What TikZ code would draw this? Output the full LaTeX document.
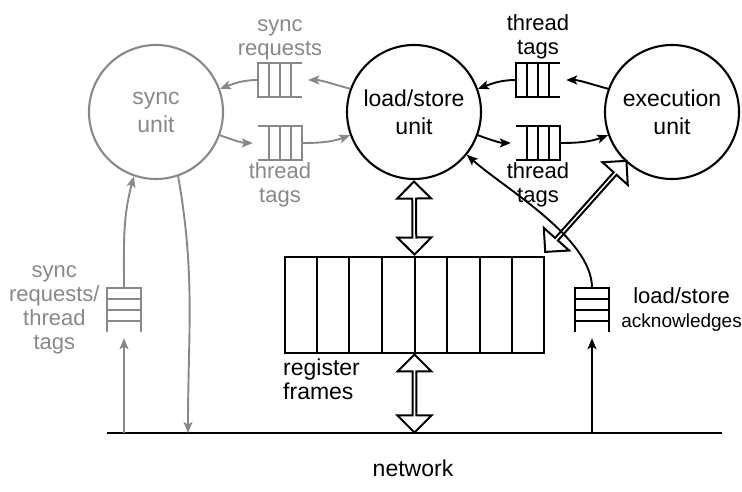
\documentclass[tikz,border=0pt]{standalone}
\usepackage{fontspec}
\setmainfont{Liberation Sans}
\usetikzlibrary{arrows.meta,shapes.arrows,positioning,calc}

\definecolor{syncgray}{RGB}{136,136,136}

\tikzset{
  unit/.style={circle, draw, line width=2.1pt, minimum size=134pt, inner sep=0pt,
    align=center, font=\fontsize{23}{28}\selectfont},
  qbox/.style={minimum width=44pt, minimum height=34pt, inner sep=0pt},
  vqbox/.style={minimum width=34pt, minimum height=44pt, inner sep=0pt},
  qline/.style={line width=2pt},
  lbl/.style={align=center, inner sep=1pt, font=\fontsize{22}{24}\selectfont},
  flow/.style={line width=1.9pt, -{Stealth[length=11pt,width=9pt,inset=2.5pt]}},
  dblarrow/.style={double arrow, draw, line width=2pt, inner sep=0pt,
    minimum width=34pt, double arrow head extend=8pt, double arrow tip angle=90},
}

% queues: closed end on the west, east or north side
\newcommand\qwest[2]{%
  \draw[qline,#2] (#1.north east) -- (#1.north west) -- (#1.south west) -- (#1.south east)
    \foreach \d in {11,22,33}{([xshift=\d pt]#1.north west) -- ([xshift=\d pt]#1.south west)};}
\newcommand\qeast[2]{%
  \draw[qline,#2] (#1.north west) -- (#1.north east) -- (#1.south east) -- (#1.south west)
    \foreach \d in {11,22,33}{([xshift=-\d pt]#1.north east) -- ([xshift=-\d pt]#1.south east)};}
\newcommand\qnorth[2]{%
  \draw[qline,#2] (#1.south west) -- (#1.north west) -- (#1.north east) -- (#1.south east)
    \foreach \d in {11,22,33}{([yshift=-\d pt]#1.north west) -- ([yshift=-\d pt]#1.north east)};}

\begin{document}
\begin{tikzpicture}[x=1pt,y=1pt]
\useasboundingbox (0,0) rectangle (742,492);

% the three units
\node[unit, draw=syncgray, text=syncgray] (sync) at (156,380) {sync\\unit};
\node[unit] (ls) at (414,380) {load/store\\unit};
\node[unit] (exec) at (672,380) {execution\\unit};

% queues between the units
\node[qbox] (sreq) at (280,412) {};
\node[qbox] (stag) at (280,349) {};
\node[qbox] (xtag) at (538,412) {};
\node[qbox] (ltag) at (538,349) {};
\qwest{sreq}{syncgray}
\qeast{stag}{syncgray}
\qwest{xtag}{black}
\qeast{ltag}{black}

\node[lbl, text=syncgray, above=2pt of sreq] (sreql) {sync\\requests};
\node[lbl, text=syncgray, below=1pt of stag] (stagl) {thread\\tags};
\node[lbl, above=3pt of xtag] (xtagl) {thread\\tags};
\node[lbl, below=1pt of ltag] (ltagl) {thread\\tags};

\draw[flow, syncgray, shorten >=6pt] (ls.160) to[out=165,in=0] (sreq.east);
\draw[flow, syncgray] (sreq.west) to[out=180,in=20] (sync.20);
\draw[flow, syncgray, shorten >=5pt] (sync.-20) to[out=-20,in=180] (stag.west);
\draw[flow, syncgray] (stag.east) to[out=0,in=200] (ls.200);

\draw[flow, shorten >=6pt] (exec.160) to[out=165,in=0] (xtag.east);
\draw[flow] (xtag.west) to[out=180,in=20] (ls.20);
\draw[flow, shorten >=5pt] (ls.-20) to[out=-20,in=180] (ltag.west);
\draw[flow] (ltag.east) to[out=0,in=200] (exec.200);

% register frames
\node[draw, line width=2pt, minimum width=259pt, minimum height=96pt, inner sep=0pt] (reg) at (414.5,187) {};
\foreach \i in {1,...,7}
  \draw[line width=2pt] ($(reg.north west)!\i/8!(reg.north east)$) -- ($(reg.south west)!\i/8!(reg.south east)$);
\node[lbl, align=left, anchor=north west, font=\fontsize{23}{24}\selectfont] (regl) at ([xshift=-2pt,yshift=-4pt]reg.south west) {register\\frames};

% network
\coordinate (netw) at (107,59);
\coordinate (nete) at (722,59);
\coordinate (sin) at (188,59);
\draw[line width=2.3pt] (netw) -- (nete);
\node[lbl, font=\fontsize{23}{28}\selectfont] (netl) at (413,24) {network};

% queues from the network
\node[vqbox] (sq) at (124,182) {};
\node[vqbox] (aq) at (592,182) {};
\qnorth{sq}{syncgray}
\qnorth{aq}{black}
\node[lbl, text=syncgray, left=6pt of sq] (sql) {sync\\requests/\\thread\\tags};
\node[lbl, right=11pt of aq] (aql) {load/store\\{\fontsize{19}{24}\selectfont acknowledges}};

\draw[flow, syncgray, shorten >=6pt] (sq |- netw) -- (sq.south);
\draw[flow, syncgray] (sq.north) to[out=90,in=-105] (sync.251);
\draw[flow, syncgray] (sync.289) to[out=-80,in=90] (sin);
\draw[flow, shorten >=6pt] (aq |- netw) -- (aq.south);
\draw[flow] (aq.north) to[out=90,in=-42,looseness=0.7] (ls.-39);

% wide two-way paths
\path (ls.south) -- (reg.north) node[dblarrow, midway, sloped, minimum height=73pt] {};
\path (reg.south) -- (reg.south |- netw) node[dblarrow, midway, sloped, minimum height=78pt] {};
\path ([shift={(1pt,5pt)}]reg.north east) -- (exec.227) node[dblarrow, midway, sloped, minimum height=122pt] {};
\end{tikzpicture}
\end{document}
